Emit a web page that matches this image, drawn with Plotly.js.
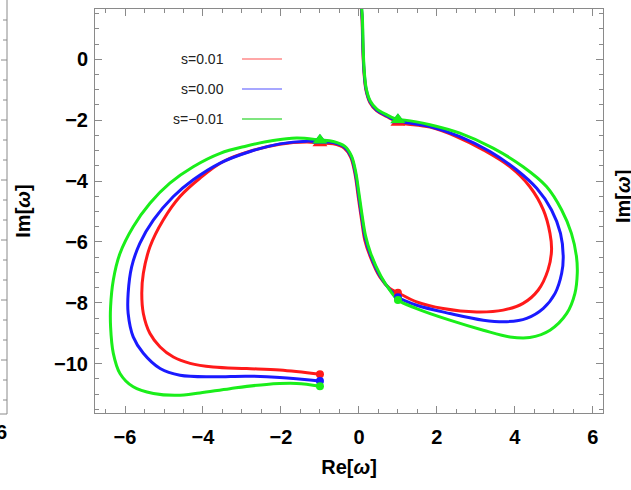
<!DOCTYPE html>
<html>
<head>
<meta charset="utf-8">
<script src="https://cdn.plot.ly/plotly-3.0.1.min.js"></script>
<style>html,body{margin:0;padding:0;background:#fff;}#chart{width:631px;height:490px;}</style>
</head>
<body>
<div id="chart"></div>
<script>
// ---- data ----
var seriesNames = ["s=0.01", "s=0.00", "s=\u22120.01"];
var seriesColors = ["#ff1a1a", "#1a1aff", "#1aee1a"];
var legendColors = ["#ff8a8a", "#8a8aff", "#55dd55"];

var redX = [0.06,0.08,0.10,0.13,0.18,0.28,0.45,0.71,1.00,1.18,1.82,2.50,3.19,3.87,4.38,4.73,4.90,4.94,4.85,4.60,4.21,3.70,3.02,2.16,1.48,1.00,0.79,0.54,0.28,0.15,0.07,-0.02,-0.10,-0.21,-0.38,-0.66,-1.00,-1.34,-2.03,-2.71,-3.48,-4.08,-4.59,-5.02,-5.36,-5.53,-5.57,-5.53,-5.36,-5.10,-4.76,-4.33,-3.74,-2.88,-2.03,-1.00];
var redY = [1.68,1.30,0.31,-0.45,-1.02,-1.42,-1.69,-1.88,-2.07,-2.12,-2.23,-2.54,-2.98,-3.53,-4.18,-4.95,-5.72,-6.27,-6.92,-7.58,-8.02,-8.24,-8.30,-8.19,-7.97,-7.67,-7.53,-7.16,-6.45,-5.94,-5.30,-4.50,-3.78,-3.22,-2.92,-2.78,-2.75,-2.72,-2.79,-2.99,-3.36,-3.91,-4.51,-5.28,-6.16,-7.03,-7.69,-8.35,-9.01,-9.45,-9.78,-9.99,-10.11,-10.16,-10.21,-10.35];

var blueX = [0.065,0.085,0.105,0.135,0.185,0.285,0.455,0.715,1.00,1.18,1.82,2.59,3.36,4.04,4.56,4.94,5.17,5.24,5.20,5.03,4.73,4.30,3.79,3.19,2.33,1.48,1.00,0.80,0.55,0.29,0.16,0.08,-0.01,-0.09,-0.20,-0.37,-0.66,-1.00,-1.34,-2.03,-2.79,-3.56,-4.25,-4.76,-5.27,-5.62,-5.83,-5.92,-5.92,-5.79,-5.53,-5.10,-4.59,-3.74,-2.88,-2.03,-1.00];
var blueY = [1.68,1.30,0.31,-0.45,-1.00,-1.40,-1.67,-1.86,-2.03,-2.07,-2.21,-2.54,-3.03,-3.63,-4.24,-4.95,-5.72,-6.49,-7.03,-7.69,-8.18,-8.51,-8.62,-8.57,-8.35,-8.08,-7.82,-7.58,-7.14,-6.41,-5.87,-5.25,-4.45,-3.75,-3.20,-2.89,-2.74,-2.71,-2.69,-2.78,-3.03,-3.41,-3.96,-4.51,-5.28,-6.05,-6.82,-7.69,-8.35,-9.12,-9.66,-10.16,-10.38,-10.43,-10.41,-10.45,-10.57];

var greenX = [0.07,0.09,0.11,0.14,0.19,0.29,0.46,0.72,1.00,1.18,1.82,2.59,3.44,4.21,4.81,5.20,5.45,5.58,5.60,5.54,5.33,4.90,4.38,3.87,3.19,2.33,1.48,1.00,0.81,0.56,0.30,0.17,0.09,0.00,-0.08,-0.19,-0.36,-0.66,-1.00,-1.60,-2.20,-2.88,-3.56,-4.25,-4.85,-5.36,-5.79,-6.13,-6.30,-6.37,-6.37,-6.30,-6.13,-5.79,-5.27,-4.67,-4.08,-3.31,-2.37,-1.60,-1.00];
var greenY = [1.68,1.30,0.31,-0.45,-0.98,-1.37,-1.64,-1.83,-1.99,-2.00,-2.15,-2.43,-2.92,-3.53,-4.18,-4.95,-5.72,-6.49,-7.03,-7.69,-8.35,-8.90,-9.14,-9.12,-8.90,-8.57,-8.19,-7.91,-7.62,-7.12,-6.37,-5.80,-5.20,-4.40,-3.72,-3.18,-2.86,-2.70,-2.65,-2.59,-2.67,-2.85,-3.09,-3.53,-4.07,-4.73,-5.50,-6.38,-7.25,-8.13,-8.79,-9.66,-10.32,-10.76,-10.98,-11.04,-10.96,-10.82,-10.68,-10.65,-10.74];

// triangle markers (upper turning points) and circle markers (end points)
var triX = [1.00, -1.00];
var triY = [[-2.08, -2.75], [-2.00, -2.67], [-1.99, -2.66]];
var dotX = [1.00, -1.00];
var dotY = [[-7.67, -10.35], [-7.82, -10.57], [-7.91, -10.74]];

var xTickVals = [-6, -4, -2, 0, 2, 4, 6];
var yTickVals = [-10, -8, -6, -4, -2, 0];

// ---- figure ----
var curvesX = [redX, blueX, greenX];
var curvesY = [redY, blueY, greenY];
var W = 631, H = 490;
var L = 95, R = 603, T = 9, B = 413;
function px(x) { return (x - L) / (R - L); }
function py(y) { return (B - y) / (B - T); }

var traces = [];
for (var i = 0; i < 3; i++) {
  traces.push({
    x: curvesX[i], y: curvesY[i], mode: "lines", name: seriesNames[i],
    line: { color: seriesColors[i], width: 3, shape: "spline", smoothing: 1.0 },
    showlegend: false, hoverinfo: "skip"
  });
}
for (var i = 0; i < 3; i++) {
  traces.push({
    x: triX, y: triY[i], mode: "markers",
    marker: { symbol: "triangle-up", size: 13, color: seriesColors[i] },
    showlegend: false, hoverinfo: "skip"
  });
  traces.push({
    x: dotX, y: dotY[i], mode: "markers",
    marker: { symbol: "circle", size: 8, color: seriesColors[i] },
    showlegend: false, hoverinfo: "skip"
  });
}

var font = { family: "Liberation Sans, Arial, sans-serif", size: 20, color: "#000", weight: "bold" };
var frameColor = "#8a8a8a";

var annotations = [];
var shapes = [];
var legY = [59, 89, 119];
for (var i = 0; i < 3; i++) {
  annotations.push({
    xref: "paper", yref: "paper", x: px(226), y: py(legY[i]), xanchor: "right", yanchor: "middle",
    text: seriesNames[i], showarrow: false,
    font: { family: "Liberation Sans, Arial, sans-serif", size: 14, color: "#222" }
  });
  shapes.push({
    type: "line", xref: "paper", yref: "paper", x0: px(242), x1: px(282), y0: py(legY[i]), y1: py(legY[i]),
    line: { color: legendColors[i], width: 1.5 }
  });
}
// fragment of neighbouring panel (left) and its labels
shapes.push({ type: "line", xref: "paper", yref: "paper", x0: px(7), x1: px(7), y0: py(0), y1: py(414), line: { color: frameColor, width: 1 } });
shapes.push({ type: "line", xref: "paper", yref: "paper", x0: px(0), x1: px(7), y0: py(414), y1: py(414), line: { color: frameColor, width: 1 } });
for (var k = 20; k <= 400; k += 20) {
  var len = (k % 60 === 0) ? 6 : 4;
  shapes.push({ type: "line", xref: "paper", yref: "paper", x0: px(7 - len), x1: px(7), y0: py(k), y1: py(k), line: { color: frameColor, width: 1 } });
}
annotations.push({ xref: "paper", yref: "paper", x: px(1), y: py(432), text: "6", showarrow: false, xanchor: "center", yanchor: "middle", font: font });
// title of neighbouring panel (right)
annotations.push({ xref: "paper", yref: "paper", x: px(623), y: py(197), text: "Im[<i>ω</i>]", showarrow: false, textangle: -90, xanchor: "center", yanchor: "middle", font: font });

var axisCommon = {
  showgrid: false, zeroline: false, showline: true, linecolor: frameColor, linewidth: 1,
  mirror: "ticks", ticks: "inside", ticklen: 7, tickcolor: frameColor, tickwidth: 1,
  tickfont: font, fixedrange: true,
  minor: { dtick: 0.5, ticks: "inside", ticklen: 4, tickcolor: frameColor, tickwidth: 1, showgrid: false }
};

var layout = {
  width: W, height: H,
  margin: { l: L, r: W - R, t: T, b: H - B, pad: 0 },
  paper_bgcolor: "#fff", plot_bgcolor: "#fff",
  showlegend: false,
  xaxis: Object.assign({}, axisCommon, {
    range: [-6.77, 6.26], tickmode: "array", tickvals: xTickVals, ticklabelstandoff: 6,
    title: { text: "Re[<i>ω</i>]", font: font, standoff: 12 }
  }),
  yaxis: Object.assign({}, axisCommon, {
    range: [-11.62, 1.65], tickmode: "array", tickvals: yTickVals, ticklabelstandoff: 2,
    title: { text: "Im[<i>ω</i>]", font: font, standoff: 18 }
  }),
  annotations: annotations,
  shapes: shapes
};

Plotly.newPlot("chart", traces, layout, { displayModeBar: false, staticPlot: true });
</script>
</body>
</html>
